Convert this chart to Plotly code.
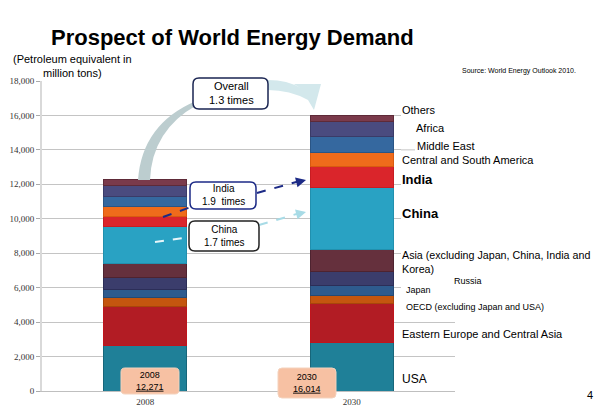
import plotly.graph_objects as go

categories = ["2008", "2030"]
series_names = ["USA", "Eastern Europe and Central Asia", "OECD (excluding Japan and USA)",
                "Japan", "Russia", "Asia (excluding Japan, China, India and Korea)",
                "China", "India", "Central and South America", "Middle East", "Africa", "Others"]
usa = [2657, 2791]
eeurope = [2268, 2290]
oecd = [482, 483]
japan = [488, 581]
russia = [698, 774]
asia = [814, 1302]
china = [2128, 3605]
india = [581, 1195]
csamerica = [582, 814]
mideast = [622, 930]
africa = [639, 873]
others = [312, 376]
totals_text = ["12,271", "16,014"]

values = [usa, eeurope, oecd, japan, russia, asia, china, india, csamerica, mideast, africa, others]
colors = ["#1f8098", "#b21c24", "#c4560f", "#2e5b8e", "#3b3d6c", "#65303d",
          "#29a2c3", "#da252b", "#ef6b1b", "#35689f", "#4a4b7f", "#7a3a4b"]
edges = ["#17667a", "#c0141c", "#a8460a", "#244a75", "#2c2e58", "#4e2330",
         "#2190ae", "#c81c22", "#d85a10", "#2a5585", "#3a3b68", "#5e2a38"]

L, R, T, B = 42, 455, 81, 391  # plot area in page pixels
W, H = 600, 415


def P(x, y):
    return (x - L) / (R - L), (B - y) / (B - T)


def path(points, close=True):
    s = ""
    for cmd, pts in points:
        s += cmd + " " + " ".join("%.5f,%.5f" % P(*p) for p in pts) + " "
    if close:
        s += "Z"
    return s


def rrect(x0, y0, x1, y1, r):
    return path([("M", [(x0 + r, y0)]), ("L", [(x1 - r, y0)]), ("Q", [(x1, y0), (x1, y0 + r)]),
                 ("L", [(x1, y1 - r)]), ("Q", [(x1, y1), (x1 - r, y1)]), ("L", [(x0 + r, y1)]),
                 ("Q", [(x0, y1), (x0, y1 - r)]), ("L", [(x0, y0 + r)]), ("Q", [(x0, y0), (x0 + r, y0)])])


fig = go.Figure()
for name, vals, c, e in zip(series_names, values, colors, edges):
    fig.add_trace(go.Bar(x=categories, y=vals, name=name, marker=dict(color=c, line=dict(color=e, width=1)),
                         width=0.4, showlegend=False, hoverinfo="skip"))

shapes = []
annotations = []

# white label panel hiding upper gridlines on the right
a0, b0 = P(401, 76)
a1, b1 = P(457, 300)
shapes.append(dict(type="rect", xref="paper", yref="paper", x0=a0, y0=b0, x1=a1, y1=b1,
                   fillcolor="white", line=dict(width=0), layer="above"))
a0, _ = P(401, 0)
a1, _ = P(415, 0)
shapes.append(dict(type="line", xref="paper", yref="y", x0=a0, x1=a1, y0=14000, y1=14000,
                   line=dict(color="#c4c4c4", width=1), layer="above"))

# overall curved arrow
shapes.append(dict(type="path", xref="paper", yref="paper", layer="above",
                   path=path([("M", [(138, 180)]), ("Q", [(142, 124), (196, 101)]), ("L", [(197, 105)]),
                              ("Q", [(152, 130), (150, 180)])]),
                   fillcolor="#bccdcf", line=dict(width=0)))
shapes.append(dict(type="path", xref="paper", yref="paper", layer="above",
                   path=path([("M", [(268, 80)]), ("Q", [(288, 80), (300, 88)]), ("L", [(294, 84)]),
                              ("L", [(321, 84)]), ("L", [(314, 110)]), ("L", [(308, 100)]),
                              ("Q", [(290, 90), (268, 90)])]),
                   fillcolor="#d3e8ec", line=dict(width=0)))

# dashed arrows
def dashed(x0, y0, x1, y1, color):
    a0, b0 = P(x0, y0)
    a1, b1 = P(x1, y1)
    shapes.append(dict(type="line", xref="paper", yref="paper", x0=a0, y0=b0, x1=a1, y1=b1,
                       line=dict(color=color, width=2, dash="dash"), layer="above"))


navy = "#1c2a86"
light = "#a8dbe6"
dashed(163, 217, 191, 207, navy)
dashed(257, 193, 300, 181, navy)
dashed(155, 242, 190, 237, "#e8f6fa")
dashed(259, 225, 300, 213, light)
for (x, y, dx, dy, c) in [(306, 180, -8, 2, navy), (306, 212, -8, 2, light)]:
    px_, py_ = P(x, y)
    annotations.append(dict(x=px_, y=py_, xref="paper", yref="paper", ax=dx, ay=dy, text="",
                            showarrow=True, arrowhead=2, arrowsize=1, arrowwidth=2, arrowcolor=c,
                            standoff=0))

# callout boxes
shapes.append(dict(type="path", xref="paper", yref="paper", path=rrect(193, 78, 268, 109, 6),
                   fillcolor="white", line=dict(color="#1a2552", width=1.5), layer="above"))
shapes.append(dict(type="path", xref="paper", yref="paper", path=rrect(190, 182, 256, 209, 6),
                   fillcolor="white", line=dict(color=navy, width=1.5), layer="above"))
shapes.append(dict(type="path", xref="paper", yref="paper", path=rrect(189, 221, 259, 251, 6),
                   fillcolor="white", line=dict(color="#222222", width=1.5), layer="above"))
shapes.append(dict(type="path", xref="paper", yref="paper", path=rrect(121, 368, 179, 394, 4),
                   fillcolor="#f7c1a3", line=dict(color="#f4d2bd", width=1), layer="above"))
shapes.append(dict(type="path", xref="paper", yref="paper", path=rrect(278, 368, 336, 398, 4),
                   fillcolor="#f7c1a3", line=dict(color="#f4d2bd", width=1), layer="above"))


def text(x, y, s, size=11, anchor="left", bold=False, family="Liberation Sans, Arial", bg=None,
         color="black", yanchor="middle"):
    a, b = P(x, y)
    d = dict(x=a, y=b, xref="paper", yref="paper", text=("<b>%s</b>" % s) if bold else s,
             showarrow=False, xanchor=anchor, yanchor=yanchor,
             font=dict(size=size, family=family, color=color), align="center" if anchor == "center" else "left")
    if bg:
        d["bgcolor"] = bg
        d["borderpad"] = 0
    annotations.append(d)


text(231, 93, "Overall<br>1.3 times", size=11, anchor="center")
text(223, 195, "India<br>1.9  times", size=10, anchor="center")
text(224, 236, "China<br>1.7 times", size=10, anchor="center")
text(150, 381, "2008<br><u>" + totals_text[0] + "</u>", size=9, anchor="center")
text(307, 383, "2030<br><u>" + totals_text[1] + "</u>", size=9, anchor="center")

text(232, 37, "Prospect of World Energy Demand", size=22, anchor="center", bold=True)
text(72, 66, "(Petroleum equivalent in<br>million tons)", size=11, anchor="center")
text(460, 71, "Source: World Energy Outlook 2010.", size=7)
text(590, 395, "4", size=11, anchor="center")

# right-side labels
bgw = "white"
text(401, 110, series_names[11], size=11, bg=bgw)
text(415, 128, series_names[10], size=11, bg=bgw)
text(416, 146, series_names[9], size=11, bg=bgw)
text(401, 160, series_names[8], size=11, bg=bgw)
text(401, 179, series_names[7], size=13, bold=True, bg=bgw)
text(401, 213, series_names[6], size=13, bold=True, bg=bgw)
text(401, 262, "Asia (excluding Japan, China, India and<br>Korea)", size=10.7, bg=bgw)
text(453, 281, series_names[4], size=9, bg=bgw)
text(405, 290, series_names[3], size=9, bg=bgw)
text(405, 307, series_names[2], size=9, bg=bgw)
text(401, 334, series_names[1], size=11, bg=bgw)
text(401, 379, series_names[0], size=12, bg=bgw)

fig.update_layout(
    barmode="stack",
    width=W, height=H,
    margin=dict(l=L, r=W - R, t=T, b=H - B, autoexpand=False),
    paper_bgcolor="white", plot_bgcolor="white",
    bargap=0.6,
    hovermode=False,
    shapes=shapes,
    annotations=annotations,
    xaxis=dict(range=[-0.5, 1.5], type="category", showline=True, linecolor="#bfbfbf", linewidth=1,
               ticks="", ticklabelstandoff=2, automargin=False,
               tickfont=dict(family="Liberation Serif, Times New Roman", size=9, color="#333"),
               showgrid=False),
    yaxis=dict(range=[0, 18000], dtick=2000, tickformat=",d", showline=True, linecolor="#d9d9d9",
               linewidth=2, ticks="outside", ticklen=4, tickcolor="#aaaaaa", gridcolor="#c4c4c4",
               gridwidth=1, zeroline=False, automargin=False,
               tickfont=dict(family="Liberation Serif, Times New Roman", size=9, color="#333")),
)

post = ("var h=document.documentElement,b=document.body;"
        "h.style.margin='0';b.style.margin='0';h.style.padding='0';b.style.padding='0';"
        "h.style.overflow='hidden';b.style.overflow='hidden';")

fig.write_html("out.html", config={"displayModeBar": False, "staticPlot": True}, post_script=post)
